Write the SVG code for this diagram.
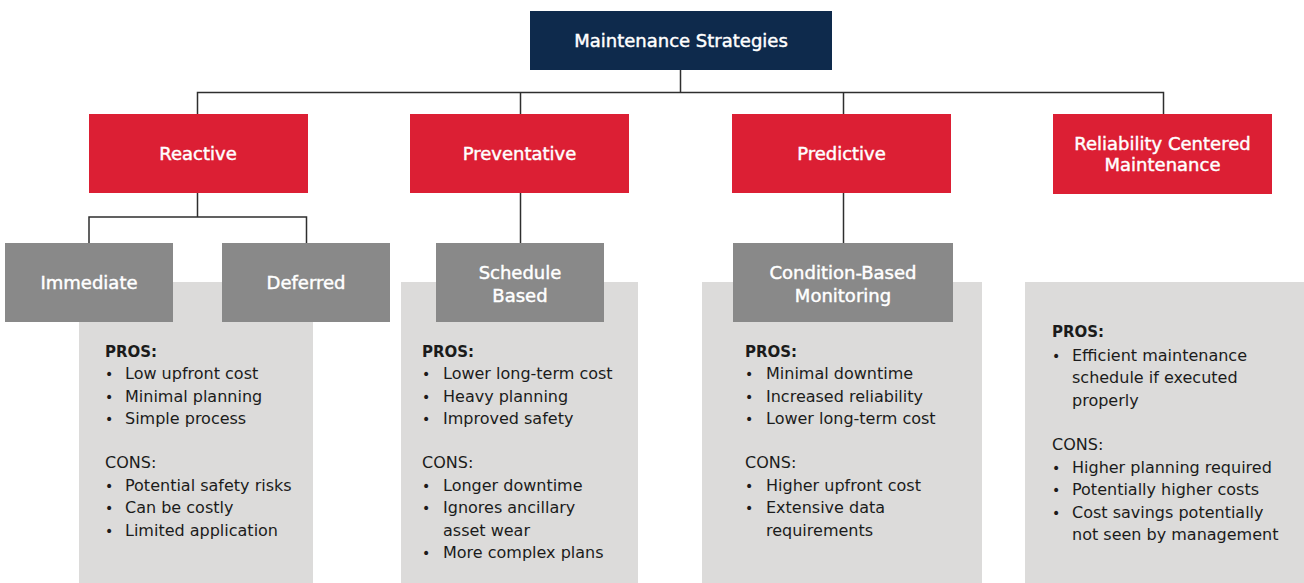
<svg xmlns="http://www.w3.org/2000/svg" width="1304" height="583" viewBox="0 0 1304 583">
<style>
.root{fill:#0e2a4c}
.cat{fill:#dc1f34}
.sub{fill:#898989}
.panel{fill:#dcdbda}
.lbl{font-family:"DejaVu Sans","Liberation Sans",sans-serif;font-size:18px;fill:#fff;stroke:#fff;stroke-width:0.45;text-anchor:middle}
.txt{font-family:"DejaVu Sans","Liberation Sans",sans-serif;font-size:16px;fill:#1b1b1b}
.hd{font-weight:bold;font-size:15px}
.bul{font-size:14px}
.conn{fill:none;stroke:#2e2e2e;stroke-width:1.5}
</style>
<rect width="1304" height="583" fill="#fff"/>

<g id="connectors" class="conn">
<path d="M680.5 70V92.5M197.5 114V92.5H1163.5V114M520.5 92.5V114M843.5 92.5V114"/>
<path d="M197.5 193V217M89 243V217H306.5V243"/>
<path d="M520.5 193V243"/>
<path d="M843.5 193V243"/>
</g>

<g id="panel-reactive">
<rect class="panel" x="79" y="282" width="234" height="301"/>
<text class="txt"><tspan class="hd" x="105" y="357" font-weight="bold">PROS:</tspan></text>
<g class="txt">
<text x="105" y="379"><tspan class="bul">•</tspan><tspan x="125">Low upfront cost</tspan></text>
<text x="105" y="401.5"><tspan class="bul">•</tspan><tspan x="125">Minimal planning</tspan></text>
<text x="105" y="424"><tspan class="bul">•</tspan><tspan x="125">Simple process</tspan></text>
<text x="105" y="468">CONS:</text>
<text x="105" y="490.7"><tspan class="bul">•</tspan><tspan x="125">Potential safety risks</tspan></text>
<text x="105" y="513"><tspan class="bul">•</tspan><tspan x="125">Can be costly</tspan></text>
<text x="105" y="535.7"><tspan class="bul">•</tspan><tspan x="125">Limited application</tspan></text>
</g>
</g>

<g id="panel-preventative">
<rect class="panel" x="401" y="282" width="237" height="301"/>
<text class="txt"><tspan class="hd" x="422" y="357" font-weight="bold">PROS:</tspan></text>
<g class="txt">
<text x="422" y="379"><tspan class="bul">•</tspan><tspan x="443">Lower long-term cost</tspan></text>
<text x="422" y="401.5"><tspan class="bul">•</tspan><tspan x="443">Heavy planning</tspan></text>
<text x="422" y="424"><tspan class="bul">•</tspan><tspan x="443">Improved safety</tspan></text>
<text x="422" y="468">CONS:</text>
<text x="422" y="490.7"><tspan class="bul">•</tspan><tspan x="443">Longer downtime</tspan></text>
<text x="422" y="513"><tspan class="bul">•</tspan><tspan x="443">Ignores ancillary</tspan></text>
<text x="443" y="535.7">asset wear</text>
<text x="422" y="558"><tspan class="bul">•</tspan><tspan x="443">More complex plans</tspan></text>
</g>
</g>

<g id="panel-predictive">
<rect class="panel" x="702" y="282" width="280" height="301"/>
<text class="txt"><tspan class="hd" x="745" y="357" font-weight="bold">PROS:</tspan></text>
<g class="txt">
<text x="745" y="379"><tspan class="bul">•</tspan><tspan x="766">Minimal downtime</tspan></text>
<text x="745" y="401.5"><tspan class="bul">•</tspan><tspan x="766">Increased reliability</tspan></text>
<text x="745" y="424"><tspan class="bul">•</tspan><tspan x="766">Lower long-term cost</tspan></text>
<text x="745" y="468">CONS:</text>
<text x="745" y="490.7"><tspan class="bul">•</tspan><tspan x="766">Higher upfront cost</tspan></text>
<text x="745" y="513"><tspan class="bul">•</tspan><tspan x="766">Extensive data</tspan></text>
<text x="766" y="535.7">requirements</text>
</g>
</g>

<g id="panel-rcm">
<rect class="panel" x="1025" y="282" width="279" height="301"/>
<text class="txt"><tspan class="hd" x="1052" y="337" font-weight="bold">PROS:</tspan></text>
<g class="txt">
<text x="1052" y="360.5"><tspan class="bul">•</tspan><tspan x="1072">Efficient maintenance</tspan></text>
<text x="1072" y="383">schedule if executed</text>
<text x="1072" y="405.5">properly</text>
<text x="1052" y="450">CONS:</text>
<text x="1052" y="472.5"><tspan class="bul">•</tspan><tspan x="1072">Higher planning required</tspan></text>
<text x="1052" y="495"><tspan class="bul">•</tspan><tspan x="1072">Potentially higher costs</tspan></text>
<text x="1052" y="517.5"><tspan class="bul">•</tspan><tspan x="1072">Cost savings potentially</tspan></text>
<text x="1072" y="540">not seen by management</text>
</g>
</g>

<g id="node-root">
<rect class="root" x="530" y="11" width="302" height="59"/>
<text class="lbl" x="681" y="47">Maintenance Strategies</text>
</g>

<g id="node-reactive">
<rect class="cat" x="89" y="114" width="219" height="79"/>
<text class="lbl" x="198" y="160">Reactive</text>
</g>
<g id="node-preventative">
<rect class="cat" x="410" y="114" width="219" height="79"/>
<text class="lbl" x="519.5" y="160">Preventative</text>
</g>
<g id="node-predictive">
<rect class="cat" x="732" y="114" width="219" height="79"/>
<text class="lbl" x="841.5" y="160">Predictive</text>
</g>
<g id="node-rcm">
<rect class="cat" x="1053" y="114" width="219" height="80"/>
<text class="lbl" x="1162.5" y="150">Reliability Centered</text>
<text class="lbl" x="1162.5" y="171">Maintenance</text>
</g>

<g id="node-immediate">
<rect class="sub" x="5" y="243" width="168" height="79"/>
<text class="lbl" x="89" y="289">Immediate</text>
</g>
<g id="node-deferred">
<rect class="sub" x="222" y="243" width="168" height="79"/>
<text class="lbl" x="306" y="289">Deferred</text>
</g>
<g id="node-schedule">
<rect class="sub" x="436" y="243" width="168" height="79"/>
<text class="lbl" x="520" y="279">Schedule</text>
<text class="lbl" x="520" y="301.5">Based</text>
</g>
<g id="node-condition">
<rect class="sub" x="733" y="243" width="220" height="79"/>
<text class="lbl" x="843" y="279">Condition-Based</text>
<text class="lbl" x="843" y="301.5">Monitoring</text>
</g>
</svg>
